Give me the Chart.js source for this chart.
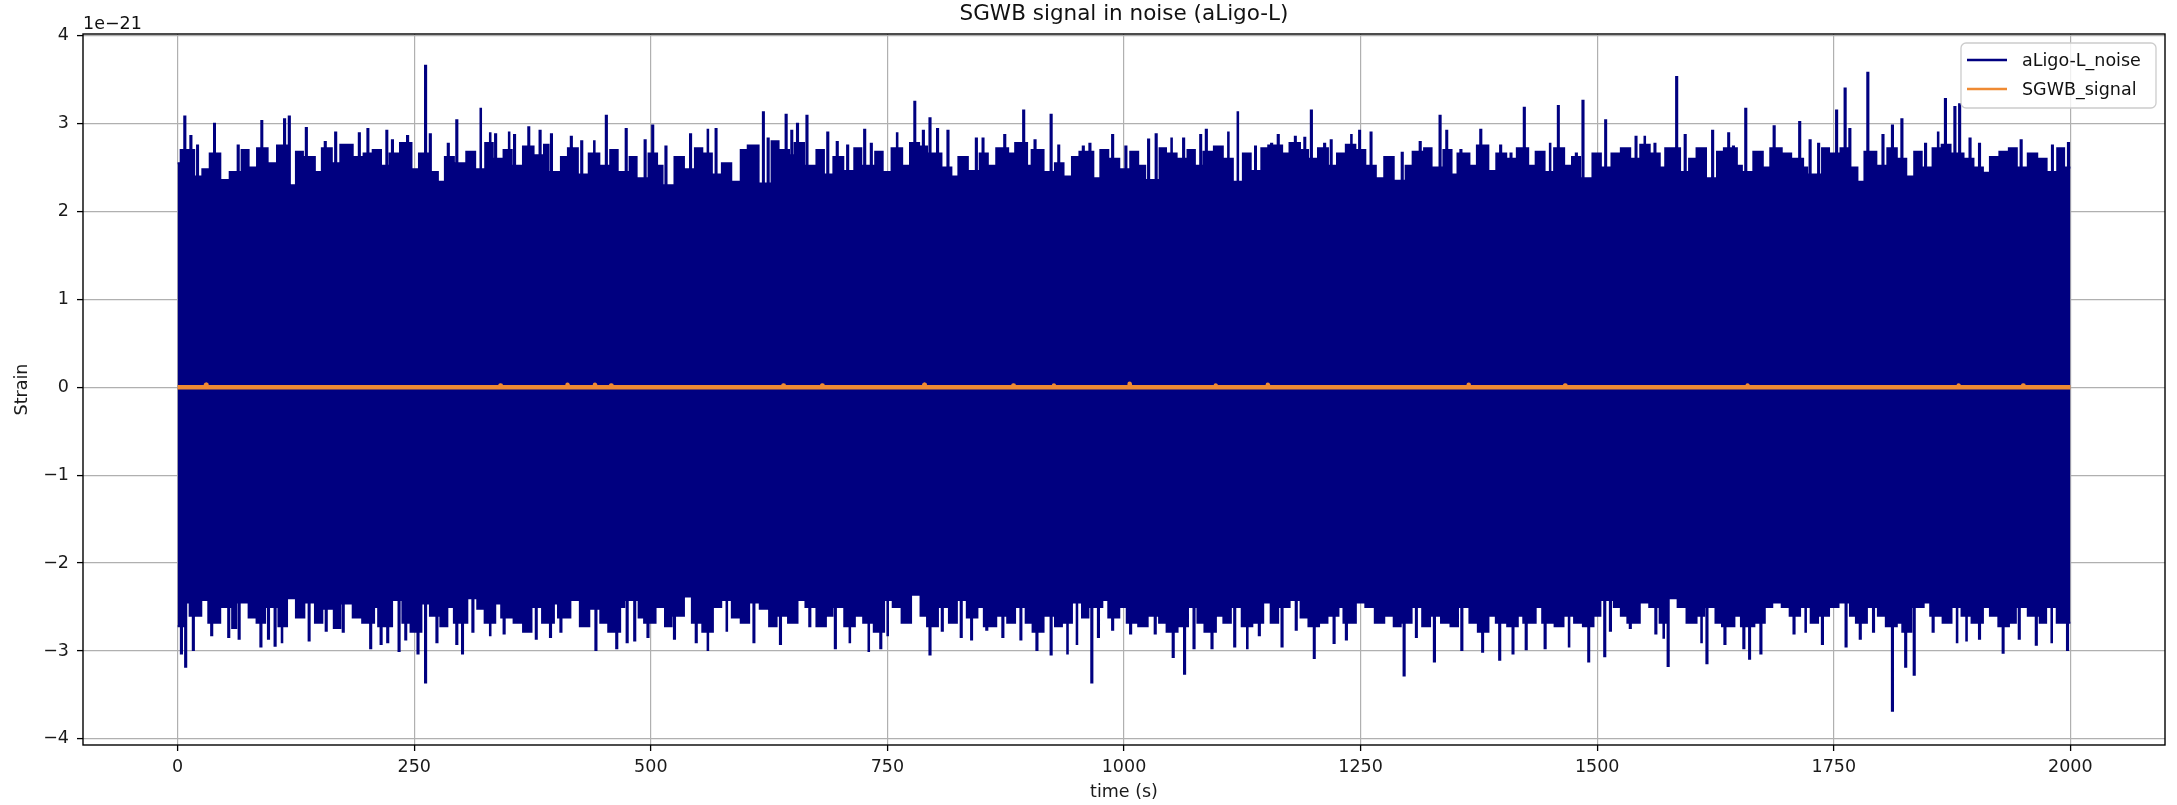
<!DOCTYPE html>
<html>
<head>
<meta charset="utf-8">
<script src="https://cdn.jsdelivr.net/npm/chart.js@4"></script>
<style>
  html, body { margin: 0; padding: 0; background: #fff; }
  #wrap { width: 2177px; height: 805px; }
</style>
</head>
<body>
<div id="wrap"><canvas id="myChart" width="2177" height="805"></canvas></div>
<script>
// valeurs (unité : 1e-21)
const baseStep = 10; // secondes entre deux valeurs de l'enveloppe
const upperBase = [
  2.55, 2.7, 2.4, 2.48, 2.66, 2.36, 2.45, 2.7, 2.5, 2.72,
  2.55, 2.75, 2.3, 2.68, 2.62, 2.45, 2.72, 2.55, 2.76, 2.62,
  2.66, 2.7, 2.52, 2.66, 2.78, 2.48, 2.66, 2.45, 2.34, 2.62,
  2.55, 2.68, 2.48, 2.78, 2.6, 2.7, 2.52, 2.74, 2.64, 2.76,
  2.45, 2.62, 2.72, 2.42, 2.66, 2.52, 2.7, 2.45, 2.62, 2.38,
  2.66, 2.52, 2.3, 2.62, 2.48, 2.72, 2.66, 2.42, 2.55, 2.34,
  2.7, 2.75, 2.32, 2.8, 2.7, 2.64, 2.78, 2.52, 2.7, 2.42,
  2.62, 2.46, 2.72, 2.52, 2.68, 2.45, 2.72, 2.52, 2.78, 2.74,
  2.66, 2.5, 2.4, 2.62, 2.46, 2.66, 2.52, 2.72, 2.66, 2.78,
  2.52, 2.7, 2.45, 2.55, 2.4, 2.62, 2.68, 2.38, 2.7, 2.6,
  2.48, 2.68, 2.52, 2.36, 2.72, 2.66, 2.6, 2.7, 2.52, 2.68,
  2.74, 2.6, 2.34, 2.66, 2.46, 2.72, 2.75, 2.66, 2.78, 2.7,
  2.6, 2.72, 2.52, 2.66, 2.76, 2.7, 2.52, 2.38, 2.62, 2.35,
  2.52, 2.68, 2.72, 2.5, 2.7, 2.42, 2.66, 2.52, 2.75, 2.46,
  2.66, 2.6, 2.72, 2.52, 2.68, 2.45, 2.72, 2.52, 2.62, 2.38,
  2.66, 2.5, 2.66, 2.72, 2.6, 2.76, 2.66, 2.5, 2.72, 2.45,
  2.6, 2.72, 2.38, 2.68, 2.72, 2.52, 2.45, 2.68, 2.5, 2.72,
  2.66, 2.6, 2.5, 2.42, 2.72, 2.66, 2.72, 2.5, 2.34, 2.68,
  2.52, 2.72, 2.6, 2.4, 2.68, 2.5, 2.72, 2.76, 2.66, 2.6,
  2.5, 2.44, 2.62, 2.68, 2.72, 2.5, 2.66, 2.6, 2.45, 2.72,
  2.5
];
const lowerBase = [
  -2.72, -2.45, -2.6, -2.42, -2.68, -2.5, -2.74, -2.45, -2.62, -2.68,
  -2.5, -2.72, -2.4, -2.62, -2.45, -2.68, -2.52, -2.74, -2.46, -2.62,
  -2.68, -2.5, -2.72, -2.42, -2.68, -2.78, -2.46, -2.6, -2.72, -2.5,
  -2.68, -2.4, -2.52, -2.68, -2.46, -2.62, -2.68, -2.78, -2.5, -2.68,
  -2.46, -2.62, -2.42, -2.72, -2.52, -2.68, -2.78, -2.5, -2.42, -2.62,
  -2.68, -2.5, -2.72, -2.6, -2.38, -2.68, -2.78, -2.5, -2.42, -2.62,
  -2.68, -2.45, -2.52, -2.72, -2.6, -2.68, -2.42, -2.5, -2.72, -2.6,
  -2.5, -2.72, -2.6, -2.68, -2.78, -2.42, -2.5, -2.68, -2.36, -2.6,
  -2.72, -2.5, -2.68, -2.42, -2.62, -2.5, -2.72, -2.6, -2.68, -2.5,
  -2.68, -2.78, -2.6, -2.72, -2.68, -2.45, -2.62, -2.5, -2.42, -2.62,
  -2.5, -2.68, -2.72, -2.6, -2.68, -2.78, -2.72, -2.5, -2.68, -2.78,
  -2.6, -2.68, -2.5, -2.72, -2.68, -2.45, -2.68, -2.5, -2.42, -2.62,
  -2.72, -2.68, -2.6, -2.5, -2.68, -2.45, -2.5, -2.68, -2.6, -2.72,
  -2.68, -2.5, -2.72, -2.6, -2.68, -2.72, -2.5, -2.68, -2.78, -2.6,
  -2.68, -2.72, -2.6, -2.68, -2.5, -2.68, -2.72, -2.6, -2.68, -2.72,
  -2.6, -2.42, -2.5, -2.6, -2.68, -2.45, -2.5, -2.68, -2.4, -2.5,
  -2.68, -2.6, -2.5, -2.68, -2.72, -2.6, -2.72, -2.68, -2.5, -2.45,
  -2.5, -2.6, -2.5, -2.68, -2.6, -2.5, -2.45, -2.6, -2.68, -2.5,
  -2.6, -2.72, -2.68, -2.78, -2.5, -2.45, -2.6, -2.68, -2.5, -2.6,
  -2.68, -2.5, -2.6, -2.72, -2.68, -2.5, -2.6, -2.68, -2.5, -2.68,
  -2.68
];

// pics au-dessus de l'enveloppe (temps en s, valeur)
const upSpikeT = [7.6, 14, 21, 39, 64, 89, 113, 118, 136, 156, 167, 175, 192, 201, 221, 227, 243, 262, 267, 286,
  295, 320, 330, 336, 350, 356, 371, 383, 395, 416, 427, 440, 453, 474, 494, 502, 516, 542, 560, 569,
  606, 619, 624, 643, 649, 655, 665, 687, 697, 708, 726, 733, 760, 779, 788, 795, 803, 814, 844, 851,
  874, 894, 906, 923, 931, 957, 964, 988, 1002, 1026, 1034, 1050, 1063, 1081, 1087, 1110, 1120, 1139, 1156, 1163,
  1181, 1191, 1198, 1212, 1219, 1240, 1249, 1261, 1294, 1313, 1334, 1341, 1356, 1377, 1398, 1409, 1423, 1450, 1459, 1478,
  1485, 1509, 1541, 1550, 1561, 1575, 1584, 1593, 1622, 1639, 1644, 1657, 1687, 1714, 1725, 1734, 1753, 1762, 1767, 1786,
  1802, 1812, 1822, 1847, 1860, 1868, 1878, 1883, 1894, 1904, 1948, 1981, 1998];
const upSpikeV = [3.08, 2.86, 2.75, 3.0, 2.75, 3.03, 3.05, 3.08, 2.95, 2.79, 2.9, 2.74, 2.89, 2.94, 2.92, 2.81, 2.86, 3.66, 2.88, 2.77,
  3.04, 3.17, 2.89, 2.88, 2.9, 2.87, 2.96, 2.92, 2.88, 2.85, 2.8, 2.8, 3.09, 2.94, 2.81, 2.98, 2.74, 2.88, 2.93, 2.94,
  2.7, 3.13, 2.83, 3.1, 2.92, 3.0, 3.09, 2.9, 2.79, 2.75, 2.93, 2.77, 2.89, 3.25, 2.92, 3.06, 2.94, 2.92, 2.83, 2.83,
  2.87, 3.15, 2.81, 3.1, 2.75, 2.74, 2.77, 2.87, 2.74, 2.82, 2.88, 2.83, 2.83, 2.87, 2.93, 2.9, 3.13, 2.74, 2.77, 2.87,
  2.85, 2.84, 3.15, 2.77, 2.81, 2.87, 2.92, 2.9, 2.67, 2.79, 3.09, 2.92, 2.7, 2.93, 2.75, 2.66, 3.18, 2.77, 3.2, 2.66,
  3.26, 3.04, 2.85, 2.85, 2.77, 2.66, 3.53, 2.87, 2.92, 2.89, 2.74, 3.17, 2.97, 3.02, 2.81, 2.77, 3.15, 3.4, 2.94, 3.58,
  2.87, 2.98, 3.05, 2.77, 2.9, 3.28, 3.19, 3.22, 2.83, 2.77, 2.81, 2.75, 2.78];

// pics sous l'enveloppe
const lowSpikeT = [4, 8.5, 16.6, 36, 54, 65, 88, 96, 103, 110, 139, 157, 175, 204, 215, 222, 234, 241, 254, 262,
  274, 295, 301, 312, 330, 345, 379, 394, 405, 442, 464, 475, 483, 497, 525, 548, 560, 580, 609, 637,
  668, 695, 710, 730, 743, 750, 795, 808, 828, 839, 855, 872, 891, 908, 923, 940, 950, 966, 973, 988,
  1007, 1033, 1052, 1064, 1074, 1093, 1117, 1130, 1143, 1167, 1182, 1201, 1222, 1235, 1296, 1309, 1328, 1357, 1379, 1397,
  1411, 1425, 1445, 1470, 1491, 1508, 1514, 1535, 1562, 1570, 1575, 1600, 1610, 1616, 1635, 1655, 1661, 1673, 1708, 1720,
  1738, 1763, 1778, 1792, 1812, 1826, 1835, 1855, 1880, 1890, 1904, 1929, 1946, 1964, 1980, 1997];
const lowSpikeV = [-3.03, -3.18, -2.99, -2.82, -2.84, -2.86, -2.95, -2.86, -2.94, -2.9, -2.88, -2.77, -2.78, -2.97, -2.92, -2.9, -3.0, -2.87, -3.03, -3.36,
  -2.9, -2.92, -3.03, -2.78, -2.82, -2.8, -2.86, -2.84, -2.78, -2.99, -2.97, -2.9, -2.88, -2.84, -2.86, -2.9, -2.99, -2.77, -2.9, -2.92,
  -2.72, -2.97, -2.9, -3.0, -2.97, -2.82, -3.04, -2.77, -2.84, -2.87, -2.76, -2.84, -2.87, -2.99, -3.04, -3.03, -2.92, -3.36, -2.84, -2.76,
  -2.8, -2.8, -3.07, -3.26, -2.97, -2.97, -2.95, -2.97, -2.82, -2.95, -2.76, -3.08, -2.91, -2.87, -3.28, -2.84, -3.12, -2.99, -3.01, -3.1,
  -3.03, -2.98, -2.97, -2.95, -3.12, -3.06, -2.77, -2.74, -2.8, -2.85, -3.17, -2.68, -2.9, -3.14, -2.92, -2.97, -3.09, -3.03, -2.8, -2.78,
  -2.92, -2.95, -2.86, -2.78, -3.68, -3.18, -3.27, -2.78, -2.9, -2.88, -2.86, -3.02, -2.86, -2.93, -2.9, -2.99];

// signal SGWB : presque nul, quelques toutes petites bosses
const sigT = [30, 341, 412, 441, 458, 640, 681, 789, 883, 926, 1006, 1097, 1152, 1364, 1466, 1659, 1882, 1950];
const sigV = [0.03, 0.02, 0.03, 0.03, 0.02, 0.02, 0.02, 0.03, 0.02, 0.02, 0.04, 0.02, 0.03, 0.03, 0.02, 0.02, 0.02, 0.02];

const xTicks = [0, 250, 500, 750, 1000, 1250, 1500, 1750, 2000];
const yTicks = [-4, -3, -2, -1, 0, 1, 2, 3, 4];
const xRange = [-100, 2100];
const yRange = [-4.07, 4.02];

const noiseColor = '#000080';
const signalColor = '#ef8a33';
const fontSize = 17.5;

Chart.defaults.font.family = "'DejaVu Sans', sans-serif";
Chart.defaults.font.size = fontSize;
Chart.defaults.color = '#1a1a1a';

// enveloppe : valeurs de base + pics insérés
function buildEnvelope(base, spikeT, spikeV) {
  let pts = base.map((v, i) => ({ x: i * baseStep, y: v }));
  spikeT.forEach((t, k) => {
    let b = base[Math.round(t / baseStep)];
    pts.push({ x: t - 1.2, y: b }, { x: t, y: spikeV[k] }, { x: t + 1.2, y: b });
  });
  pts.sort((a, b) => a.x - b.x);
  return pts;
}

function buildSignal() {
  let pts = [{ x: 0, y: 0 }];
  sigT.forEach((t, k) => {
    pts.push({ x: t - 0.5, y: 0 }, { x: t, y: sigV[k] }, { x: t + 0.5, y: 0 });
  });
  pts.push({ x: 2000, y: 0 });
  return pts;
}

function minusFmt(v) {
  return v < 0 ? '\u2212' + Math.abs(v) : String(v);
}

// titre, cadre, "1e-21" et légende façon matplotlib
const decorPlugin = {
  id: 'decor',
  afterDraw(chart) {
    const ctx = chart.ctx;
    const ca = chart.chartArea;
    ctx.save();

    // cadre
    ctx.strokeStyle = '#000';
    ctx.lineWidth = 1.4;
    ctx.strokeRect(ca.left, ca.top, ca.right - ca.left, ca.bottom - ca.top);

    // titre
    ctx.fillStyle = '#111';
    ctx.font = "21.5px 'DejaVu Sans'";
    ctx.textAlign = 'center';
    ctx.textBaseline = 'alphabetic';
    ctx.fillText('SGWB signal in noise (aLigo-L)', (ca.left + ca.right) / 2, ca.top - 14);

    // facteur d'échelle
    ctx.font = fontSize + "px 'DejaVu Sans'";
    ctx.textAlign = 'left';
    ctx.fillText('1e\u221221', ca.left, ca.top - 5);

    // légende
    const bw = 195, bh = 65;
    const bx = ca.right - 9 - bw, by = ca.top + 9;
    ctx.beginPath();
    ctx.roundRect(bx, by, bw, bh, 5);
    ctx.fillStyle = 'rgba(255,255,255,0.8)';
    ctx.fill();
    ctx.strokeStyle = '#cccccc';
    ctx.lineWidth = 1.3;
    ctx.stroke();

    const items = [['aLigo-L_noise', noiseColor], ['SGWB_signal', signalColor]];
    items.forEach((it, i) => {
      const ly = by + 17 + i * 29;
      ctx.strokeStyle = it[1];
      ctx.lineWidth = 2.6;
      ctx.beginPath();
      ctx.moveTo(bx + 6, ly);
      ctx.lineTo(bx + 46, ly);
      ctx.stroke();
      ctx.fillStyle = '#111';
      ctx.textBaseline = 'middle';
      ctx.fillText(it[0], bx + 61, ly + 1);
    });
    ctx.restore();
  }
};

const ctx = document.getElementById('myChart').getContext('2d');
const myChart = new Chart(ctx, {
  type: 'line',
  data: {
    datasets: [
      {
        label: 'SGWB_signal',
        data: buildSignal(),
        borderColor: signalColor,
        borderWidth: 4.5,
        borderJoinStyle: 'round',
        fill: false,
        pointRadius: 0,
        tension: 0,
        order: 0
      },
      {
        label: 'aLigo-L_noise',
        data: buildEnvelope(upperBase, upSpikeT, upSpikeV),
        borderColor: noiseColor,
        backgroundColor: noiseColor,
        borderWidth: 2,
        stepped: 'middle',
        fill: 'origin',
        pointRadius: 0,
        order: 1
      },
      {
        label: 'aLigo-L_noise (bas)',
        data: buildEnvelope(lowerBase, lowSpikeT, lowSpikeV),
        borderColor: noiseColor,
        backgroundColor: noiseColor,
        borderWidth: 2,
        stepped: 'middle',
        fill: 'origin',
        pointRadius: 0,
        order: 2
      }
    ]
  },
  options: {
    responsive: false,
    animation: false,
    devicePixelRatio: 1,
    layout: { padding: { top: 34, right: 12, left: 0, bottom: 0 } },
    plugins: {
      legend: { display: false },
      title: { display: false },
      tooltip: { enabled: false }
    },
    scales: {
      x: {
        type: 'linear',
        min: xRange[0],
        max: xRange[1],
        afterBuildTicks: s => { s.ticks = xTicks.map(v => ({ value: v })); },
        afterFit: s => { s.height = 60; },
        ticks: { maxRotation: 0, autoSkip: false, padding: 6, callback: v => minusFmt(v) },
        grid: { color: '#b0b0b0', lineWidth: 1.2, tickColor: '#000', tickLength: 6, tickWidth: 1.3 },
        border: { display: false },
        title: { display: true, text: 'time (s)', padding: { top: 0, bottom: 2 } }
      },
      y: {
        type: 'linear',
        min: yRange[0],
        max: yRange[1],
        afterBuildTicks: s => { s.ticks = yTicks.map(v => ({ value: v })); },
        afterFit: s => { s.width = 83; },
        ticks: { padding: 8, callback: v => minusFmt(v) },
        grid: { color: '#b0b0b0', lineWidth: 1.2, tickColor: '#000', tickLength: 6, tickWidth: 1.3 },
        border: { display: false },
        title: { display: true, text: 'Strain', padding: { top: 12, bottom: 0 } }
      }
    }
  },
  plugins: [decorPlugin]
});
</script>
</body>
</html>
